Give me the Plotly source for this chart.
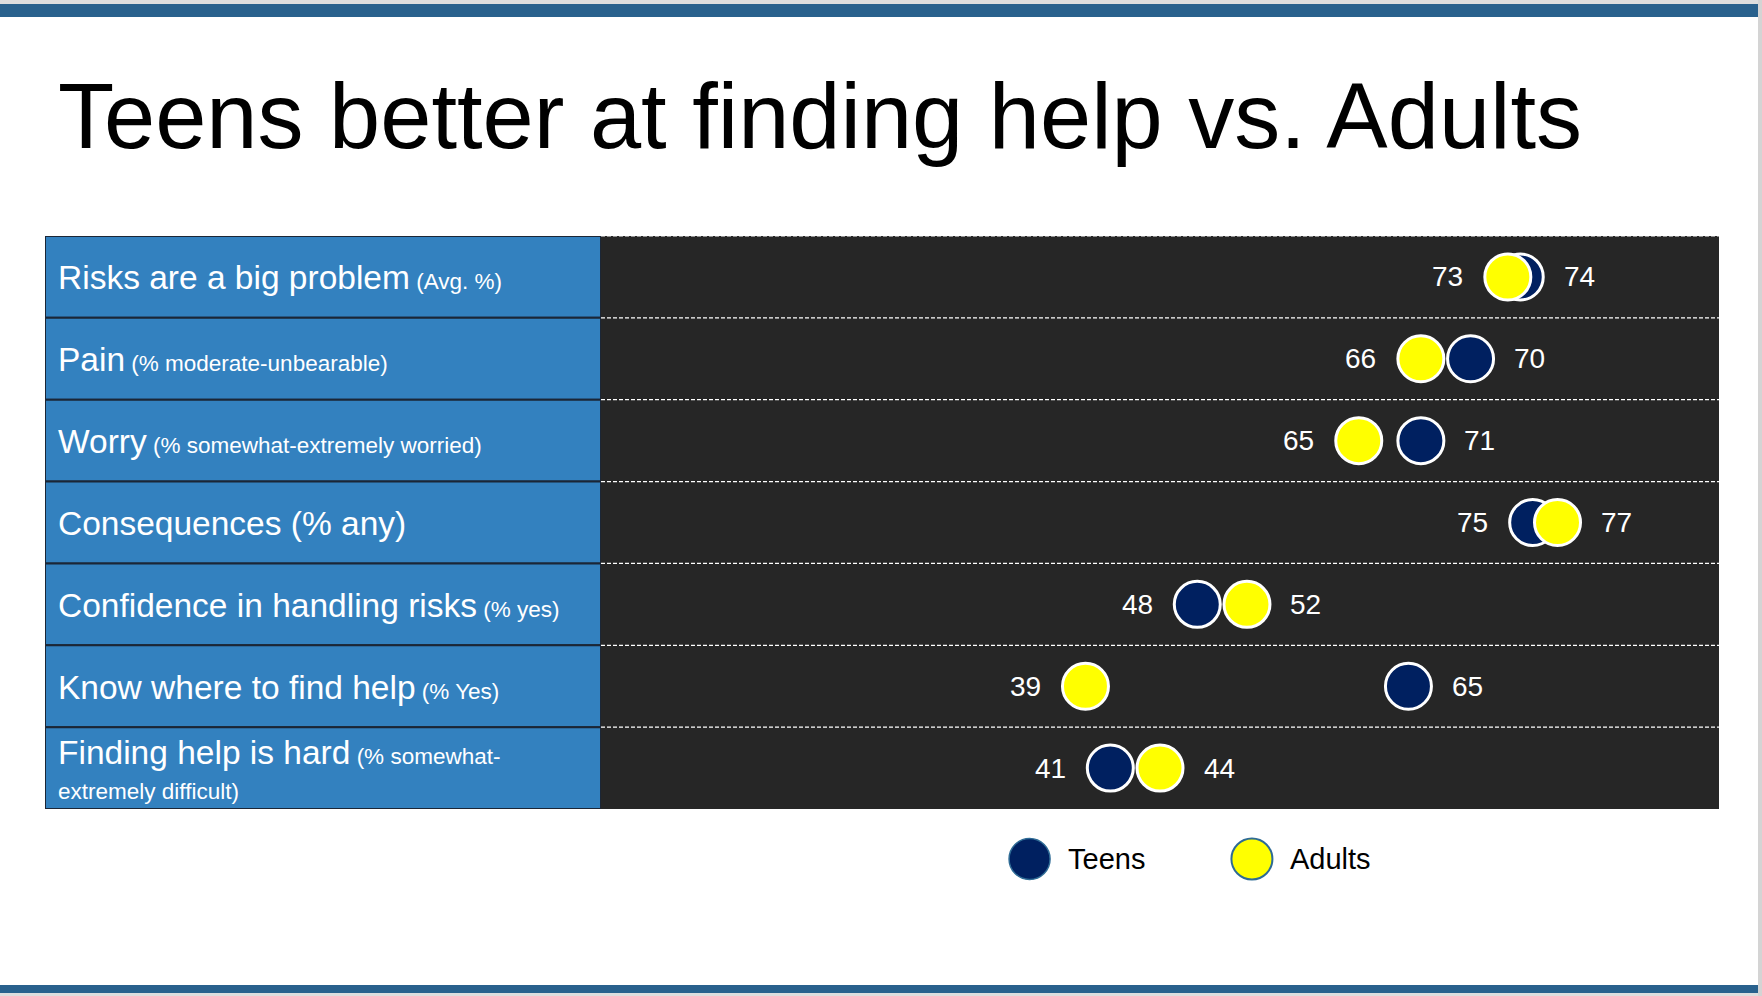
import plotly.graph_objects as go

W, H = 1762, 996

rows = ["Risks", "Pain", "Worry", "Consequences", "Confidence", "Know", "Finding"]
main_labels = ["Risks are a big problem", "Pain", "Worry", "Consequences (% any)",
               "Confidence in handling risks", "Know where to find help", "Finding help is hard"]
sub_labels = ["(Avg. %)", "(% moderate-unbearable)", "(% somewhat-extremely worried)", "",
              "(% yes)", "(% Yes)", "(% somewhat-<br>extremely difficult)"]

# printed percentages
teens = [74, 70, 71, 75, 48, 65, 41]
adults = [73, 66, 65, 77, 52, 39, 44]
# where the dots actually sit in the picture (Worry row is drawn off its labels)
teens_dot = [74, 70, 66, 75, 48, 65, 41]
adults_dot = [73, 66, 61, 77, 52, 39, 45]

legend_names = ["Teens", "Adults"]

NAVY = "#002060"
YELLOW = "#FFFF00"
FONT = "Liberation Sans, Arial, sans-serif"

# plot area in pixels
ML, MR, MT, MB = 45, 43, 236, 100
PW, PH = W - ML - MR, H - MT - MB
split = (601 - ML) / PW
ydom0 = (H - MB - 809) / PH


def px_x(q):
    return (q - ML) / PW


def px_y(p):
    return (H - MB - p) / PH


fig = go.Figure()

# label column
fig.add_trace(go.Bar(x=[1] * len(rows), y=rows, orientation="h", width=1,
                     xaxis="x2", yaxis="y", hoverinfo="skip", showlegend=False,
                     marker=dict(color="#3381BF", line=dict(color="#1B2636", width=2))))

fig.add_trace(go.Scatter(x=teens_dot, y=rows, mode="markers", name="Teens", showlegend=False,
                         cliponaxis=False,
                         marker=dict(size=46, color=NAVY, line=dict(color="white", width=3))))
fig.add_trace(go.Scatter(x=adults_dot, y=rows, mode="markers", name="Adults", showlegend=False,
                         cliponaxis=False,
                         marker=dict(size=46, color=YELLOW, line=dict(color="white", width=3))))

# hand made legend below the table
leg_x = [34.5, 52.4]
fig.add_trace(go.Scatter(x=leg_x, y=[0, 0], yaxis="y3", mode="markers", showlegend=False,
                         cliponaxis=False, hoverinfo="skip",
                         marker=dict(size=41, color=[NAVY, YELLOW],
                                     line=dict(color="#2E6B95", width=[1.5, 2]))))

shapes = [
    dict(type="rect", xref="x domain", yref="y domain", x0=0, x1=1, y0=0, y1=1,
         fillcolor="#262626", line=dict(width=0), layer="below"),
]
for i in range(len(rows)):
    shapes.append(dict(type="line", xref="x domain", yref="y", x0=0, x1=1, y0=i - 0.5, y1=i - 0.5,
                       line=dict(color="white", width=1.2, dash="4px,2px"), layer="below"))

# slide frame: bars top and bottom, page edge on the right
shapes += [
    dict(type="rect", xref="paper", yref="paper", x0=px_x(0), x1=px_x(W), y0=px_y(4), y1=px_y(0),
         fillcolor="#DEDEDE", line=dict(width=0)),
    dict(type="rect", xref="paper", yref="paper", x0=px_x(0), x1=px_x(1758), y0=px_y(17), y1=px_y(4),
         fillcolor="#29618D", line=dict(width=0)),
    dict(type="rect", xref="paper", yref="paper", x0=px_x(0), x1=px_x(1758), y0=px_y(993), y1=px_y(985),
         fillcolor="#29618D", line=dict(width=0)),
    dict(type="rect", xref="paper", yref="paper", x0=px_x(0), x1=px_x(W), y0=px_y(H), y1=px_y(993),
         fillcolor="#DEDEDE", line=dict(width=0)),
    dict(type="rect", xref="paper", yref="paper", x0=px_x(1758), x1=px_x(W), y0=px_y(H), y1=px_y(0),
         fillcolor="#D4D4D4", line=dict(width=0)),
]

annotations = [
    dict(text="Teens better at finding help vs. Adults", xref="paper", yref="paper",
         x=px_x(56), y=px_y(116), xanchor="left", yanchor="middle", showarrow=False,
         font=dict(family=FONT, size=92, color="black")),
]

for r, main, sub in zip(rows, main_labels, sub_labels):
    txt = '<span style="font-size:33.5px">%s</span>' % main
    if sub:
        parts = sub.split("<br>")
        txt += '<span style="font-size:22.5px"> %s</span>' % parts[0]
        for p in parts[1:]:
            txt += '<br><span style="font-size:22.5px">%s</span>' % p
    annotations.append(dict(text=txt, xref="x2", yref="y", x=0.02, y=r, yshift=-1, xanchor="left",
                            yanchor="middle", align="left", showarrow=False,
                            font=dict(family=FONT, size=27, color="white")))

for r, t, a, td, ad in zip(rows, teens, adults, teens_dot, adults_dot):
    for val, pos, other in ((t, td, ad), (a, ad, td)):
        shift = -60 if pos < other else 59
        annotations.append(dict(text=str(val), xref="x", yref="y", x=pos, y=r, xshift=shift,
                                xanchor="center", yanchor="middle", showarrow=False,
                                font=dict(family=FONT, size=28, color="white")))

for name, lx in zip(legend_names, leg_x):
    annotations.append(dict(text=name, xref="x", yref="y3", x=lx, y=0, xshift=36,
                            xanchor="left", yanchor="middle", showarrow=False,
                            font=dict(family=FONT, size=29, color="black")))

fig.update_layout(
    width=W, height=H,
    margin=dict(l=ML, r=MR, t=MT, b=MB, pad=0),
    paper_bgcolor="white", plot_bgcolor="white",
    showlegend=False,
    xaxis=dict(domain=[split, 1], range=[0, 90], visible=False, anchor="y", fixedrange=True),
    xaxis2=dict(domain=[0, split], range=[0, 1], visible=False, anchor="y", fixedrange=True),
    yaxis=dict(domain=[ydom0, 1], range=[len(rows) - 0.5, -0.5], type="category",
               categoryorder="array", categoryarray=rows, visible=False, fixedrange=True),
    yaxis3=dict(domain=[0, ydom0], range=[-37, 50], visible=False, anchor="x", fixedrange=True),
    shapes=shapes,
    annotations=annotations,
)

fig.write_html("out.html", config={"displayModeBar": False},
               post_script="document.body.style.margin='0';document.body.style.overflow='hidden';")
